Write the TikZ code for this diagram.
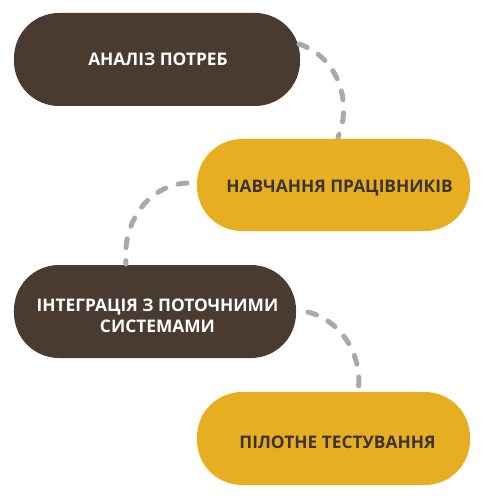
\documentclass[tikz,border=0pt]{standalone}
\usepackage{fontspec}
\setmainfont{Open Sans}
\definecolor{brownbox}{HTML}{4A3B31}
\definecolor{yellowbox}{HTML}{E8AE22}
\definecolor{darktext}{HTML}{3A3330}
\definecolor{dashgray}{HTML}{A9A9A9}
\tikzset{
  blob/.style={rectangle, rounded corners=45bp, inner sep=0pt},
  brownblob/.style={blob, fill=brownbox},
  yellowblob/.style={blob, fill=yellowbox},
  lighttext/.style={text=white, font=\fontsize{17.4}{21}\selectfont\bfseries, align=center, inner sep=0pt},
  darklabel/.style={text=darktext, font=\fontsize{17.4}{21}\selectfont\bfseries, align=center, inner sep=0pt},
  link/.style={draw=dashgray, line width=5bp, line cap=round, dash pattern=on 9bp off 13bp}
}
\begin{document}
\begin{tikzpicture}[x=1bp,y=-1bp]
\useasboundingbox (0,0) rectangle (490,500);
\node[brownblob, minimum width=286bp, minimum height=93bp] (s1) at (157,59.5) {};
\node[yellowblob, minimum width=273bp, minimum height=92bp] (s2) at (333.5,185) {};
\node[brownblob, minimum width=282bp, minimum height=93bp] (s3) at (155,311.5) {};
\node[yellowblob, minimum width=273bp, minimum height=93bp] (s4) at (333.5,438.5) {};
\node[lighttext] (t1) at (158,59) {АНАЛІЗ ПОТРЕБ};
\node[darklabel] (t2) at (339.5,188) {НАВЧАННЯ ПРАЦІВНИКІВ};
\node[lighttext] (t3) at (157.5,315.5) {ІНТЕГРАЦІЯ З ПОТОЧНИМИ\\СИСТЕМАМИ};
\node[darklabel] (t4) at (337.5,442) {ПІЛОТНЕ ТЕСТУВАННЯ};
\coordinate (a1) at (299,44);
\coordinate (b1) at (338,137);
\coordinate (a2) at (187,183);
\coordinate (b2) at (126,264);
\coordinate (a3) at (308,312);
\coordinate (b3) at (358,391);
\draw[link] (a1) .. controls (340,58) and (352,105) .. (b1);
\draw[link] (a2) .. controls (150,185) and (122,220) .. (b2);
\draw[link] (a3) .. controls (345,322) and (363,360) .. (b3);
\end{tikzpicture}
\end{document}
